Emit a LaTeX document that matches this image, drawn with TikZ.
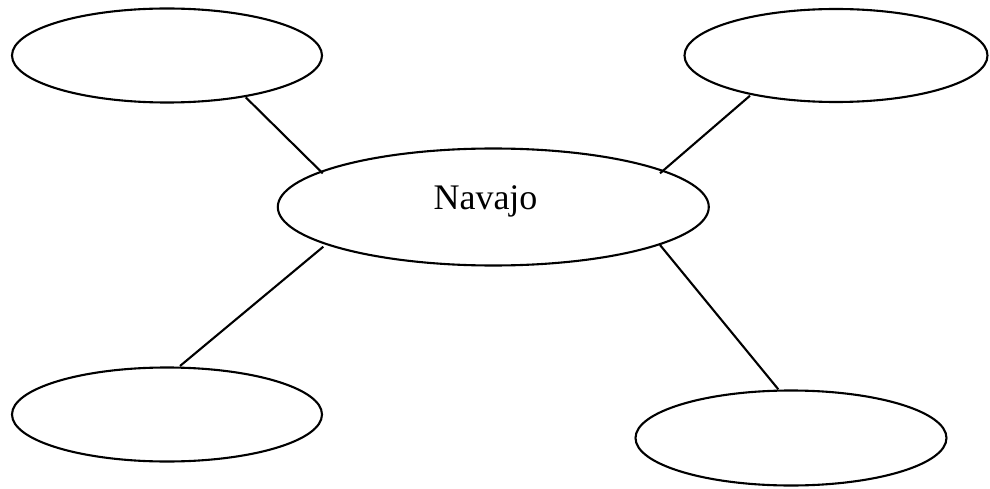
\documentclass[tikz,border=0pt]{standalone}
\usepackage{fontspec}
\setmainfont{Liberation Serif}
\usetikzlibrary{shapes.geometric,calc}
\begin{document}
\begin{tikzpicture}[x=1pt,y=-1pt,
  bubble/.style={draw=black,line width=2.1pt,shape=ellipse,inner sep=0pt,outer sep=0pt},
  spoke/.style={draw=black,line width=2.1pt},
  title/.style={font=\fontsize{36}{43}\selectfont,inner sep=0pt,anchor=base}]
  \useasboundingbox (0,0) rectangle (990,489);
  % central topic
  \node[bubble,minimum width=431pt,minimum height=117pt] (c) at (493.3,207) {};
  \node[title] (lbl) at ($(c.center)+(-7.8,2.3)$) {Navajo};
  % surrounding empty bubbles
  \node[bubble,minimum width=310pt,minimum height=94pt] (tl) at (167,55.5) {};
  \node[bubble,minimum width=303pt,minimum height=93pt] (tr) at (836,55.5) {};
  \node[bubble,minimum width=310pt,minimum height=94pt] (bl) at (167,414.5) {};
  \node[bubble,minimum width=311pt,minimum height=95pt] (br) at (791,438) {};
  % spokes
  \draw[spoke] ($(tl.center)+(78.7,41.8)$) -- ($(c.center)+(-170.6,-33.7)$);
  \draw[spoke] ($(tr.center)+(-86,40.2)$) -- ($(c.center)+(166.7,-33.7)$);
  \draw[spoke] ($(c.center)+(-170,39.7)$) -- ($(bl.center)+(13,-48.5)$);
  \draw[spoke] ($(c.center)+(166.7,38)$) -- ($(br.center)+(-12.7,-48.7)$);
\end{tikzpicture}
\end{document}
